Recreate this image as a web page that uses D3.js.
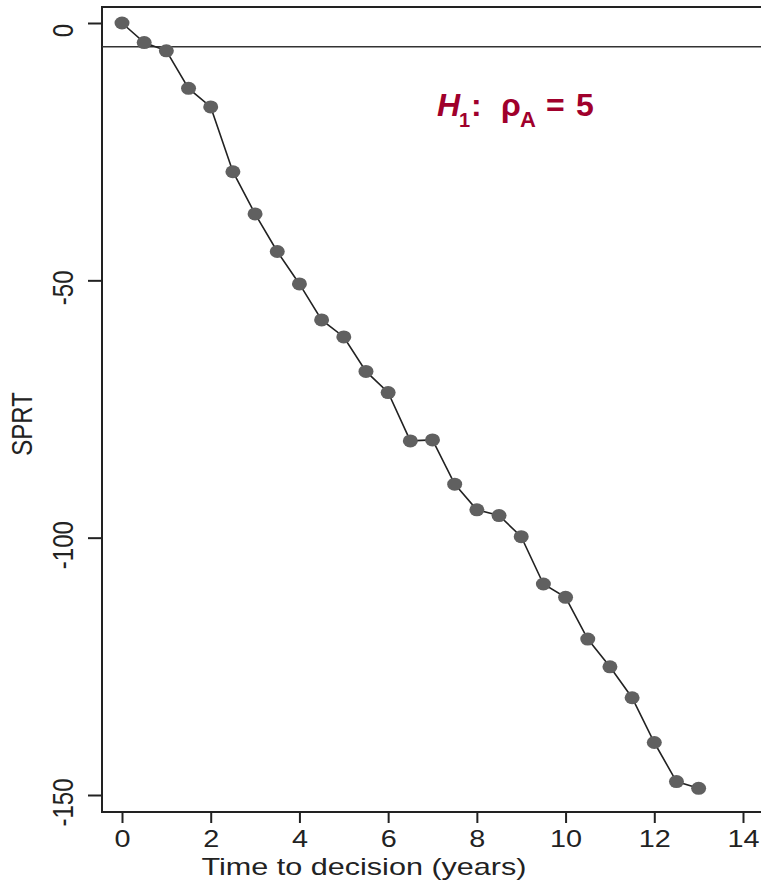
<!DOCTYPE html>
<html>
<head>
<meta charset="utf-8">
<style>body{margin:0;background:#fff}</style>
</head>
<body>
<svg width="761" height="882"></svg>
<script src="https://d3js.org/d3.v7.min.js"></script>
<script>
// data
var years = [0, 0.5, 1, 1.5, 2, 2.5, 3, 3.5, 4, 4.5, 5, 5.5, 6, 6.5, 7, 7.5, 8, 8.5, 9, 9.5, 10, 10.5, 11, 11.5, 12, 12.5, 13];
var sprt = [0, -3.8, -5.4, -12.7, -16.3, -28.9, -37.1, -44.4, -50.7, -57.7, -61.0, -67.7, -71.8, -81.2, -81.0, -89.6, -94.6, -95.7, -99.8, -109.0, -111.6, -119.7, -125.1, -131.1, -139.8, -147.4, -148.7];
var xTicks = [0, 2, 4, 6, 8, 10, 12, 14];
var yTicks = [0, -50, -100, -150];
var boundary = -4.6;

var font = 'Liberation Sans, Arial, Helvetica, sans-serif';
var ink = '#222';
var stretch = 1.2; // the source picture is a bit wider than tall

var svg = d3.select('svg');
var x = d3.scaleLinear().domain([0, 14]).range([122, 743]);
var y = d3.scaleLinear().domain([0, -150]).range([23, 795]);

// plot frame (runs off the right edge like the original)
svg.append('rect')
    .attr('x', 102).attr('y', 7)
    .attr('width', 720).attr('height', 805)
    .attr('fill', 'none')
    .attr('stroke', ink)
    .attr('stroke-width', 2);

// x axis
var gx = svg.append('g')
    .attr('transform', 'translate(0,812)')
    .call(d3.axisBottom(x).tickValues(xTicks).tickSize(11).tickSizeOuter(0));
gx.select('.domain').remove();
gx.selectAll('line').attr('stroke', ink).attr('stroke-width', 2);
gx.selectAll('text')
    .attr('y', 35).attr('dy', 0)
    .attr('font-family', font).attr('font-size', 24)
    .attr('fill', ink)
    .attr('transform', 'scale(' + stretch + ',1)');

// y axis
var gy = svg.append('g')
    .attr('transform', 'translate(102,0)')
    .call(d3.axisLeft(y).tickValues(yTicks).tickSize(14).tickSizeOuter(0)
        .tickFormat(function (d) { return String(d); }));
gy.select('.domain').remove();
gy.selectAll('line').attr('stroke', ink).attr('stroke-width', 2);
gy.selectAll('text')
    .attr('x', 0).attr('y', 0).attr('dy', 0)
    .attr('text-anchor', 'middle')
    .attr('font-family', font).attr('font-size', 24)
    .attr('fill', ink)
    .attr('transform', 'translate(-29,7) scale(' + stretch + ',1) rotate(-90)');

// axis titles
svg.append('text')
    .attr('x', 364).attr('y', 875)
    .attr('text-anchor', 'middle')
    .attr('font-family', font).attr('font-size', 24)
    .attr('fill', ink)
    .attr('textLength', 325)
    .attr('lengthAdjust', 'spacingAndGlyphs')
    .text('Time to decision (years)');

svg.append('text')
    .attr('transform', 'translate(32,424) scale(' + stretch + ',1) rotate(-90)')
    .attr('text-anchor', 'middle')
    .attr('font-family', font).attr('font-size', 24)
    .attr('fill', ink)
    .text('SPRT');

// decision boundary
svg.append('line')
    .attr('x1', 102).attr('x2', 761)
    .attr('y1', y(boundary)).attr('y2', y(boundary))
    .attr('stroke', '#333')
    .attr('stroke-width', 1.5);

// SPRT path
var pts = years.map(function (t, i) { return [t, sprt[i]]; });
svg.append('path')
    .datum(pts)
    .attr('fill', 'none')
    .attr('stroke', ink)
    .attr('stroke-width', 1.6)
    .attr('d', d3.line().x(function (d) { return x(d[0]); }).y(function (d) { return y(d[1]); }));

svg.append('g').selectAll('ellipse')
    .data(pts)
    .join('ellipse')
    .attr('cx', function (d) { return x(d[0]); })
    .attr('cy', function (d) { return y(d[1]); })
    .attr('rx', 7.5).attr('ry', 6.5)
    .attr('fill', '#606060');

// hypothesis label
var lab = svg.append('text')
    .attr('font-family', font).attr('font-weight', 'bold')
    .attr('fill', '#a0002c');
lab.append('tspan').attr('x', 437).attr('y', 116).attr('font-size', 32).attr('font-style', 'italic').text('H');
lab.append('tspan').attr('x', 459).attr('y', 127).attr('font-size', 20).text('1');
lab.append('tspan').attr('x', 471).attr('y', 116).attr('font-size', 32).text(':');
lab.append('tspan').attr('x', 501).attr('y', 116).attr('font-size', 32).text('ρ');
lab.append('tspan').attr('x', 520).attr('y', 127).attr('font-size', 22).text('A');
lab.append('tspan').attr('x', 546).attr('y', 116).attr('font-size', 32).text('=');
lab.append('tspan').attr('x', 576).attr('y', 116).attr('font-size', 32).text('5');
</script>
</body>
</html>
